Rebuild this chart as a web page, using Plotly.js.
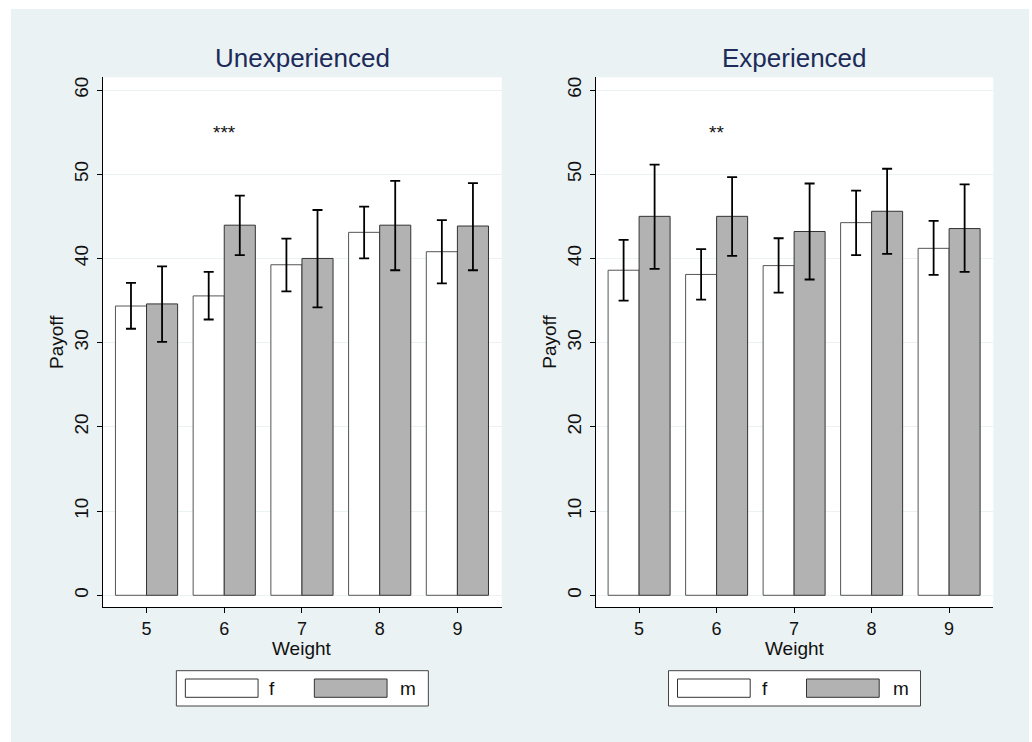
<!DOCTYPE html>
<html><head><meta charset="utf-8">
<script src="https://cdn.plot.ly/plotly-3.0.1.min.js"></script>
<style>html,body{margin:0;padding:0;background:#fff}</style>
</head><body><div id="chart" style="width:1032px;height:742px"></div>
<script>
// ---- data ----
const weights = [5, 6, 7, 8, 9];
const panelTitles = ['Unexperienced', 'Experienced'];
const seriesNames = ['f', 'm'];

const unexpF   = [34.35, 35.55, 39.25, 43.10, 40.80];
const unexpFLo = [31.65, 32.75, 36.10, 40.00, 37.05];
const unexpFHi = [37.10, 38.40, 42.35, 46.15, 44.55];
const unexpM   = [34.60, 43.95, 40.00, 43.95, 43.85];
const unexpMLo = [30.10, 40.40, 34.20, 38.60, 38.60];
const unexpMHi = [39.05, 47.45, 45.75, 49.20, 48.95];

const expF   = [38.60, 38.10, 39.15, 44.25, 41.20];
const expFLo = [35.00, 35.10, 35.95, 40.40, 38.05];
const expFHi = [42.20, 41.10, 42.40, 48.05, 44.45];
const expM   = [45.00, 45.00, 43.20, 45.60, 43.55];
const expMLo = [38.75, 40.30, 37.50, 40.55, 38.40];
const expMHi = [51.15, 49.65, 48.90, 50.65, 48.80];

const sigWeight = [6, 6];
const sigLabels = ['***', '**'];
const sigY = 54.9;

const yTicks = [0, 10, 20, 30, 40, 50, 60];

// ---- layout helpers ----
const W = 1032, H = 742;
const px = x => x / W;
const py = y => 1 - y / H;
const FONT = 'Arial, "Liberation Sans", Helvetica, sans-serif';
const BG = '#eaf2f3';
const GRAY = '#b2b2b2';

function errs(mean, lo, hi) {
  return {
    type: 'data', symmetric: false,
    array: hi.map((h, i) => h - mean[i]),
    arrayminus: lo.map((l, i) => mean[i] - l),
    color: '#000', thickness: 1.8, width: 5
  };
}
function barTrace(name, y, lo, hi, fill, lineCol, xa, ya) {
  return {
    type: 'bar', name: name, x: weights, y: y, xaxis: xa, yaxis: ya,
    marker: {color: fill, line: {color: lineCol, width: 1}},
    error_y: errs(y, lo, hi), showlegend: false, hoverinfo: 'x+y'
  };
}

const data = [
  barTrace(seriesNames[0], unexpF, unexpFLo, unexpFHi, '#ffffff', '#555', 'x', 'y'),
  barTrace(seriesNames[1], unexpM, unexpMLo, unexpMHi, GRAY, '#333', 'x', 'y'),
  barTrace(seriesNames[0], expF, expFLo, expFHi, '#ffffff', '#555', 'x2', 'y2'),
  barTrace(seriesNames[1], expM, expMLo, expMHi, GRAY, '#333', 'x2', 'y2')
];

function xAxis(d0, d1, anchor) {
  return {
    domain: [px(d0), px(d1)], range: [4.44, 9.57], anchor: anchor,
    tickmode: 'array', tickvals: weights, ticktext: weights.map(String),
    ticks: 'outside', ticklen: 5, tickcolor: '#000', tickwidth: 1,
    ticklabelstandoff: 0,
    showline: true, linecolor: '#000', linewidth: 1,
    showgrid: false, zeroline: false,
    tickfont: {family: FONT, size: 18, color: '#111'}, fixedrange: true
  };
}
function yAxis(anchor) {
  return {
    domain: [py(607), py(77.3)], range: [-1.39, 61.51], anchor: anchor,
    tickmode: 'array', tickvals: yTicks, ticktext: yTicks.map(String),
    tickangle: -90, ticks: 'outside', ticklen: 5, tickcolor: '#000', tickwidth: 1,
    ticklabelstandoff: 1,
    showline: true, linecolor: '#000', linewidth: 1,
    showgrid: true, gridcolor: BG, gridwidth: 1, zeroline: false,
    tickfont: {family: FONT, size: 19, color: '#111'}, fixedrange: true
  };
}

const panels = [
  {l: 103, r: 501.7, xref: 'x', yref: 'y'},
  {l: 595.7, r: 993.3, xref: 'x2', yref: 'y2'}
];

const shapes = [
  {type: 'rect', xref: 'paper', yref: 'paper', x0: 0, x1: px(11), y0: 0, y1: 1, fillcolor: '#fff', line: {width: 0}, layer: 'below'},
  {type: 'rect', xref: 'paper', yref: 'paper', x0: px(1029), x1: 1, y0: 0, y1: 1, fillcolor: '#fff', line: {width: 0}, layer: 'below'},
  {type: 'rect', xref: 'paper', yref: 'paper', x0: 0, x1: 1, y0: py(9), y1: 1, fillcolor: '#fff', line: {width: 0}, layer: 'below'}
];
const annotations = [];

panels.forEach((p, i) => {
  const cx = (p.l + p.r) / 2;
  annotations.push({xref: 'paper', yref: 'paper', x: px(cx), y: py(58), text: panelTitles[i],
    showarrow: false, xanchor: 'center', yanchor: 'middle', font: {family: FONT, size: 26, color: '#1c2b59'}});
  annotations.push({xref: 'paper', yref: 'paper', x: px(p.l - 46), y: py(342), text: 'Payoff', textangle: -90,
    showarrow: false, xanchor: 'center', yanchor: 'middle', font: {family: FONT, size: 19, color: '#111'}});
  annotations.push({xref: 'paper', yref: 'paper', x: px(cx), y: py(648), text: 'Weight',
    showarrow: false, xanchor: 'center', yanchor: 'middle', font: {family: FONT, size: 19, color: '#111'}});
  annotations.push({xref: p.xref, yref: p.yref, x: sigWeight[i], y: sigY, text: sigLabels[i],
    showarrow: false, xanchor: 'center', yanchor: 'middle', font: {family: FONT, size: 19, color: '#111'}});
  // legend (decorative key)
  const ly0 = py(706), ly1 = py(670.7), sy0 = py(697.3), sy1 = py(679);
  shapes.push({type: 'rect', xref: 'paper', yref: 'paper', x0: px(cx - 126), x1: px(cx + 126), y0: ly0, y1: ly1,
    fillcolor: '#fff', line: {color: '#444', width: 1}});
  shapes.push({type: 'rect', xref: 'paper', yref: 'paper', x0: px(cx - 117), x1: px(cx - 44.3), y0: sy0, y1: sy1,
    fillcolor: '#fff', line: {color: '#333', width: 1}});
  shapes.push({type: 'rect', xref: 'paper', yref: 'paper', x0: px(cx + 12), x1: px(cx + 84.7), y0: sy0, y1: sy1,
    fillcolor: GRAY, line: {color: '#333', width: 1}});
  annotations.push({xref: 'paper', yref: 'paper', x: px(cx - 30), y: py(688.3), text: seriesNames[0],
    showarrow: false, xanchor: 'center', yanchor: 'middle', font: {family: FONT, size: 19, color: '#111'}});
  annotations.push({xref: 'paper', yref: 'paper', x: px(cx + 106), y: py(688.3), text: seriesNames[1],
    showarrow: false, xanchor: 'center', yanchor: 'middle', font: {family: FONT, size: 19, color: '#111'}});
});

const layout = {
  width: W, height: H,
  margin: {l: 0, r: 0, t: 0, b: 0},
  paper_bgcolor: BG, plot_bgcolor: '#ffffff',
  barmode: 'group', bargap: 0.2, bargroupgap: 0,
  showlegend: false,
  xaxis: xAxis(panels[0].l, panels[0].r, 'y'),
  yaxis: yAxis('x'),
  xaxis2: xAxis(panels[1].l, panels[1].r, 'y2'),
  yaxis2: yAxis('x2'),
  shapes: shapes,
  annotations: annotations,
  font: {family: FONT}
};

Plotly.newPlot('chart', data, layout, {staticPlot: true, displayModeBar: false});
</script>
</body></html>
